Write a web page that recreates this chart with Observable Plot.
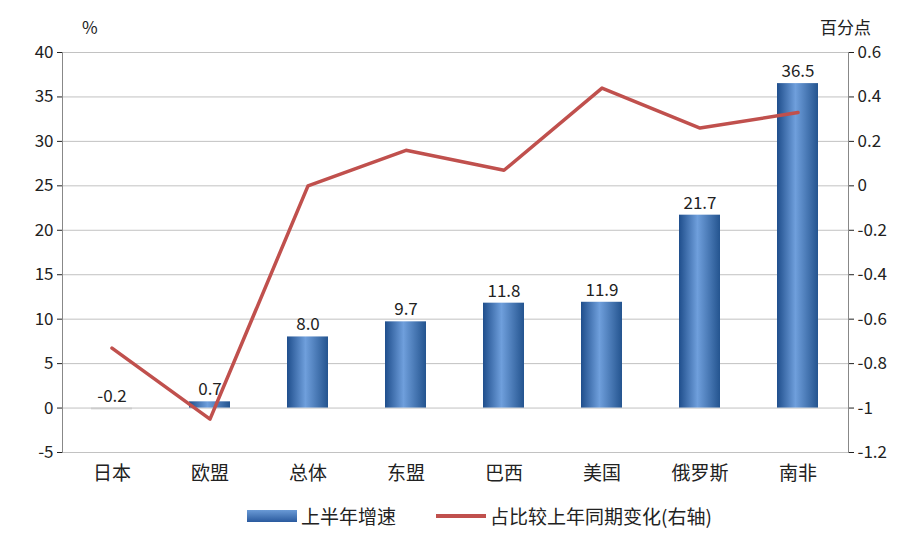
<!DOCTYPE html>
<html><head><meta charset="utf-8">
<script src="https://cdn.jsdelivr.net/npm/d3@7"></script>
<script src="https://cdn.jsdelivr.net/npm/@observablehq/plot@0.6"></script>
<style>
body{margin:0;background:#fff;font-family:"Noto Sans CJK SC",sans-serif;}
#wrap{position:relative;width:919px;}
.unit{position:absolute;top:14px;font-size:17px;color:#222;}
#legend{display:flex;justify-content:center;gap:40px;font-size:19px;color:#222;margin-top:2px;margin-left:40px}
#legend span{display:inline-flex;align-items:center;gap:4px}
</style></head><body>
<div id="wrap">
<div class="unit" style="left:82px">%</div>
<div class="unit" style="left:820px">百分点</div>
<div id="chart"></div>
<div id="legend">
<span><i style="display:inline-block;width:50px;height:12px;background:linear-gradient(#6a9ad6,#2a5a9e)"></i>上半年增速</span>
<span><i style="display:inline-block;width:50px;height:4px;background:#c0504d"></i>占比较上年同期变化(右轴)</span>
</div>
</div>
<script>
const categories = ["日本","欧盟","总体","东盟","巴西","美国","俄罗斯","南非"];
const growth = [-0.2, 0.7, 8.0, 9.7, 11.8, 11.9, 21.7, 36.5];
const shareChange = [-0.73, -1.05, 0.0, 0.16, 0.07, 0.44, 0.26, 0.33];
const leftTicks = [-5,0,5,10,15,20,25,30,35,40];

// right axis (-1.2..0.6) mapped onto left scale (-5..40)
const toLeft = r => r * 25 + 25;
const toRight = l => (l - 25) / 25;

const data = categories.map((c, i) => ({cat: c, g: growth[i], s: toLeft(shareChange[i])}));

const plot = Plot.plot({
  width: 919, height: 500,
  marginTop: 52, marginLeft: 62, marginRight: 71, marginBottom: 48,
  style: {fontFamily: "Noto Sans CJK SC, sans-serif", fontSize: "16px", color: "#222"},
  x: {domain: categories, paddingInner: 0.58, paddingOuter: 0.3, label: null},
  y: {domain: [-5, 40], label: null},
  marks: [
    Plot.gridY(leftTicks, {stroke: "#999", strokeOpacity: 0.6}),
    Plot.axisY(leftTicks, {anchor: "left", tickSize: 5, tickPadding: 4, label: null, fontSize: 17,
      tickFormat: d => String(d)}),
    Plot.axisY(leftTicks, {anchor: "right", tickSize: 5, tickPadding: 4, label: null, fontSize: 17,
      tickFormat: d => { const v = +toRight(d).toFixed(1); return v === 0 ? "0" : String(v); }}),
    Plot.axisX({tickSize: 0, tickPadding: 14, fontSize: 19, label: null}),
    Plot.frame({anchor: "left", stroke: "#888"}),
    Plot.frame({anchor: "right", stroke: "#888"}),
    Plot.barY(data, {x: "cat", y: "g", fill: d => d.g < 0 ? "#ccc" : "#3a6fb8", className: "bars"}),
    Plot.text(data, {x: "cat", y: d => Math.max(d.g, 0), text: d => d.g.toFixed(1), dy: -12, fontSize: 17, fill: "#222"}),
    Plot.line(data, {x: "cat", y: "s", stroke: "#c0504d", strokeWidth: 3.5})
  ]
});
document.getElementById("chart").appendChild(plot);

const svg = d3.select(plot);
const defs = svg.insert("defs", ":first-child");
const g = defs.append("linearGradient").attr("id", "bg").attr("x1", 0).attr("x2", 1).attr("y1", 0).attr("y2", 0);
g.append("stop").attr("offset", "0%").attr("stop-color", "#1f4e8c");
g.append("stop").attr("offset", "45%").attr("stop-color", "#6f9fdc");
g.append("stop").attr("offset", "100%").attr("stop-color", "#24548f");
svg.selectAll(".bars rect").filter((d, i) => growth[i] >= 0).attr("fill", "url(#bg)");
</script>
</body></html>
